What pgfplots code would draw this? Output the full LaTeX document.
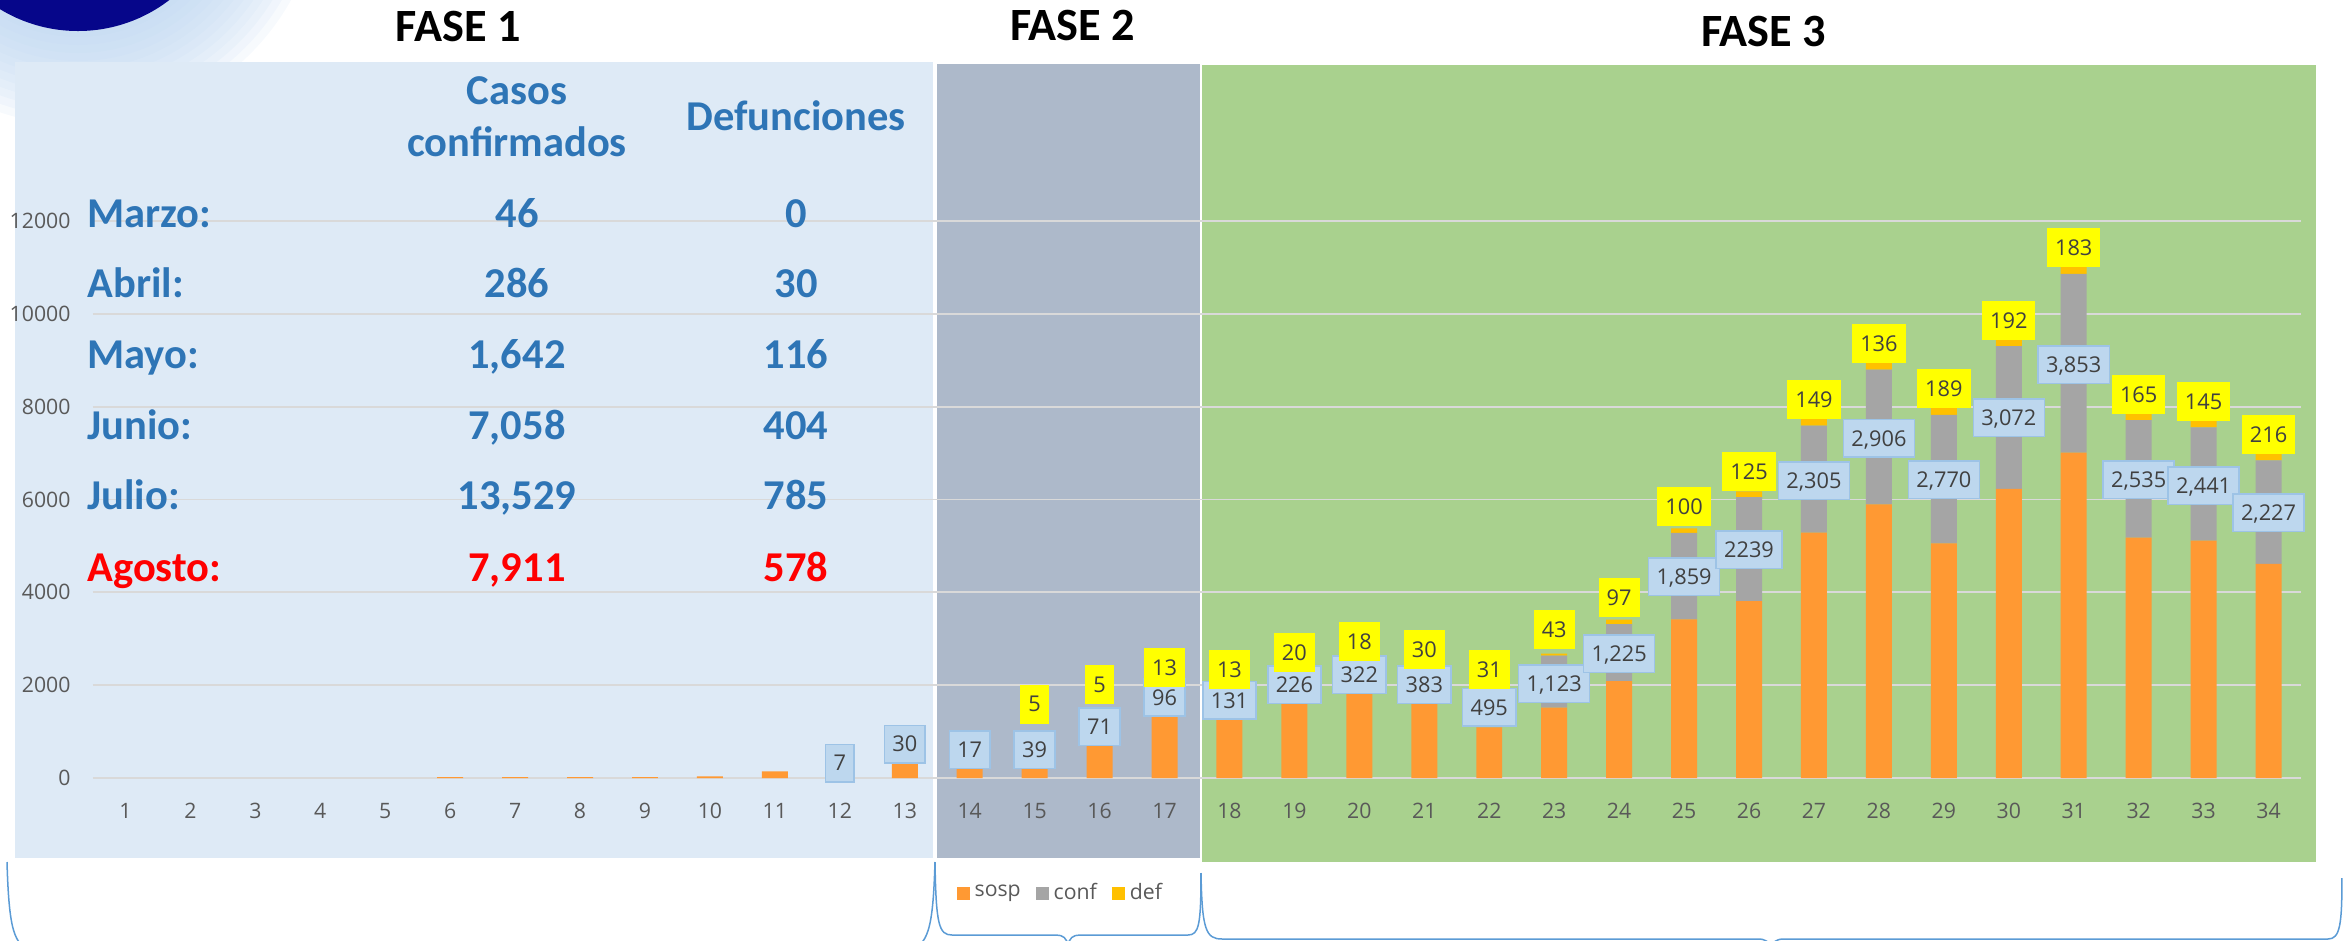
\documentclass[border=0pt]{standalone}
\usepackage{fontspec}
\setmainfont{Carlito}
\newfontfamily\lblfont{Open Sans}
\usepackage{pgfplots}
\pgfplotsset{compat=1.18}
\usepackage{pgfplotstable}
\definecolor{sospc}{HTML}{FF9933}
\definecolor{confc}{HTML}{A5A5A5}
\definecolor{defc}{HTML}{FFC000}
\definecolor{panelA}{HTML}{DEEAF6}
\definecolor{panelB}{HTML}{ADB9CA}
\definecolor{panelC}{HTML}{A9D18E}
\definecolor{boxfill}{HTML}{BDD7EE}
\definecolor{boxdraw}{HTML}{9DC3E6}
\definecolor{ylw}{HTML}{FFFF00}
\definecolor{labc}{HTML}{404040}
\definecolor{tickc}{HTML}{595959}
\definecolor{gridc}{HTML}{D9D9D9}
\definecolor{tblue}{HTML}{2E75B6}
\definecolor{tred}{HTML}{FF0000}
\definecolor{bracec}{HTML}{5B9BD5}
\definecolor{logoc}{HTML}{06068A}
\definecolor{glowc}{HTML}{BCD5F0}

\pgfplotstableread{
x sosp conf def
1 0 0 0
2 0 0 0
3 0 0 0
4 0 0 0
5 0 0 0
6 21 0 0
7 21 0 0
8 21 0 0
9 21 0 0
10 36 0 0
11 144 0 0
12 250 7 0
13 336 30 0
14 194 17 0
15 194 39 5
16 711 71 5
17 1357 96 13
18 1290 131 13
19 1610 226 20
20 1825 322 18
21 1610 383 30
22 1090 495 31
23 1515 1123 43
24 2090 1225 97
25 3420 1859 100
26 3810 2239 125
27 5285 2305 149
28 5894 2906 136
29 5054 2770 189
30 6232 3072 192
31 7008 3853 183
32 5177 2535 165
33 5112 2441 145
34 4616 2227 216
}\barsdata

\pgfplotstableread{
x y lbl
12 323 7
13 732 30
14 610 17
15 605 39
16 1107 71
17 1741 96
18 1676 131
19 2012 226
20 2230 322
21 2012 383
22 1521 495
23 2036 1,123
24 2682 1,225
25 4336 1,859
26 4916 2239
27 6402 2,305
28 7320 2,906
29 6428 2,770
30 7757 3,072
31 8908 3,853
32 6428 2,535
33 6299 2,441
34 5717 2,227
}\conflabels

\pgfplotstableread{
x y lbl
15 1594 5
16 2012 5
17 2372 13
18 2333 13
19 2695 20
20 2941 18
21 2773 30
22 2333 31
23 3199 43
24 3884 97
25 5846 100
26 6609 125
27 8145 149
28 9360 136
29 8391 189
30 9851 192
31 11426 183
32 8262 165
33 8107 145
34 7395 216
}\deflabels

\newcommand\hdrfont{\bfseries\fontsize{17}{20}\selectfont}
\newcommand\ttlfont{\bfseries\fontsize{18.5}{22}\selectfont}
\newcommand\tickfont{\lblfont\fontsize{8.5}{10}\selectfont}
\newcommand\labfont{\lblfont\fontsize{8.7}{10}\selectfont}

\begin{document}
\begin{tikzpicture}
\path[use as bounding box] (0pt,0pt) rectangle (937.2pt,-376pt);
\clip (0pt,0pt) rectangle (937.2pt,-376pt);
\begin{scope}[x=0.4pt,y=-0.4pt]
  % logo with soft glow
  \foreach \r in {156,164,...,244} {
    \fill[glowc, opacity=0.12] (78,-119) circle (\r);
  }
  \fill[logoc] (78,-119) circle (150);
  % phase panels
  \fill[panelA] (15,62) rectangle (933,858);
  \fill[panelB] (937,64) rectangle (1200,858);
  \fill[panelC] (1202,65) rectangle (2316,862);
  % titles
  \node[font=\ttlfont, anchor=base] at (458,41.5) {FASE 1};
  \node[font=\ttlfont, anchor=base] at (1072.7,40.8) {FASE 2};
  \node[font=\ttlfont, anchor=base] at (1763.7,46.2) {FASE 3};
  % braces
  \begin{scope}[draw=bracec, line width=0.6pt]
    \draw (7,862) .. controls (9,930) and (14,946) .. (32,950);
    \draw (935,862) .. controls (933,930) and (928,946) .. (908,950);
    \draw (935,862) .. controls (936,925) and (939,935) .. (952,935) -- (1056,935)
          .. controls (1063,935) and (1067,938) .. (1068,946)
          .. controls (1069,938) and (1073,935) .. (1080,935) -- (1188,935)
          .. controls (1199,935) and (1201,925) .. (1201,873);
    \draw (1201,873) .. controls (1202,930) and (1206,939) .. (1222,939) -- (1758,939)
          .. controls (1766,939) and (1770,942) .. (1771,950)
          .. controls (1772,942) and (1776,939) .. (1784,939) -- (2328,939)
          .. controls (2340,939) and (2342,925) .. (2342,878);
  \end{scope}
\end{scope}

\begin{axis}[
  at={(37.2pt,-311.2pt)}, anchor=south west,
  width=883.2pt, height=222.8pt, scale only axis,
  xmin=0.5, xmax=34.5, ymin=0, ymax=12000,
  ybar stacked, bar width=0.4,
  axis line style={draw=none},
  major tick length=0pt,
  xtick={1,...,34}, ytick={0,2000,...,12000},
  scaled y ticks=false,
  ymajorgrids, grid style={draw=gridc, line width=0.75pt},
  tick label style={font=\tickfont, text=tickc},
  yticklabel style={anchor=east, inner sep=0pt, xshift=-8.8pt},
  xticklabel style={anchor=center, inner sep=0pt, yshift=-13.1pt},
  /pgf/number format/1000 sep={},
  /pgf/number format/assume math mode=true,
  clip=false,
  legend image code/.code={\fill[#1] (0pt,-2.6pt) rectangle (5.2pt,2.6pt);},
  legend style={at={(0.3909,-0.2065)}, anchor=west, draw=none, fill=none,
    legend columns=3, inner sep=0pt, font=\tickfont, text=tickc,
    /tikz/every odd column/.append style={column sep=0pt},
    /tikz/every even column/.append style={column sep=4pt}},
]
\addplot[fill=sospc, draw=none] table[x=x, y=sosp] {\barsdata};
\addplot[fill=confc, draw=none] table[x=x, y=conf] {\barsdata};
\addplot[fill=defc, draw=none] table[x=x, y=def] {\barsdata};
\legend{sosp, conf, def}
\end{axis}

\begin{axis}[
  at={(37.2pt,-311.2pt)}, anchor=south west,
  width=883.2pt, height=222.8pt, scale only axis,
  xmin=0.5, xmax=34.5, ymin=0, ymax=12000,
  hide axis, clip=false,
]
\addplot[draw=none, mark=none, nodes near coords, point meta=explicit symbolic,
  nodes near coords align=center,
  nodes near coords style={fill=boxfill, draw=boxdraw, line width=0.6pt,
    inner xsep=3.2pt, inner ysep=0pt, minimum height=15pt,
    text height=6.3pt, text depth=0pt, font=\labfont, text=labc}]
  table[x=x, y=y, meta=lbl] {\conflabels};
\addplot[draw=none, mark=none, nodes near coords, point meta=explicit symbolic,
  nodes near coords align=center,
  nodes near coords style={fill=ylw, draw=none,
    inner xsep=3.2pt, inner ysep=0pt, minimum height=15.6pt,
    text height=6.3pt, text depth=0pt, font=\labfont, text=labc}]
  table[x=x, y=y, meta=lbl] {\deflabels};
\end{axis}

% summary table drawn above the gridlines
\begin{scope}[x=0.4pt,y=-0.4pt, every node/.style={font=\hdrfont, text=tblue, inner sep=0pt}]
  \node[anchor=base] at (517,104.7) {Casos};
  \node[anchor=base] at (517,156) {confirmados};
  \node[anchor=base] at (796,130.4) {Defunciones};
  \node[anchor=base west] at (87,227.3) {Marzo:};
  \node[anchor=base] at (517,227.3) {46};
  \node[anchor=base] at (796,227.3) {0};
  \node[anchor=base west] at (87,297.2) {Abril:};
  \node[anchor=base] at (517,297.2) {286};
  \node[anchor=base] at (796,297.2) {30};
  \node[anchor=base west] at (87,368.4) {Mayo:};
  \node[anchor=base] at (517,368.4) {1,642};
  \node[anchor=base] at (796,368.4) {116};
  \node[anchor=base west] at (87,439.5) {Junio:};
  \node[anchor=base] at (517,439.5) {7,058};
  \node[anchor=base] at (796,439.5) {404};
  \node[anchor=base west] at (87,509.9) {Julio:};
  \node[anchor=base] at (517,509.9) {13,529};
  \node[anchor=base] at (796,509.9) {785};
  \node[anchor=base west, text=tred] at (87,581) {Agosto:};
  \node[anchor=base, text=tred] at (517,581) {7,911};
  \node[anchor=base, text=tred] at (796,581) {578};
\end{scope}
\end{tikzpicture}
\end{document}
